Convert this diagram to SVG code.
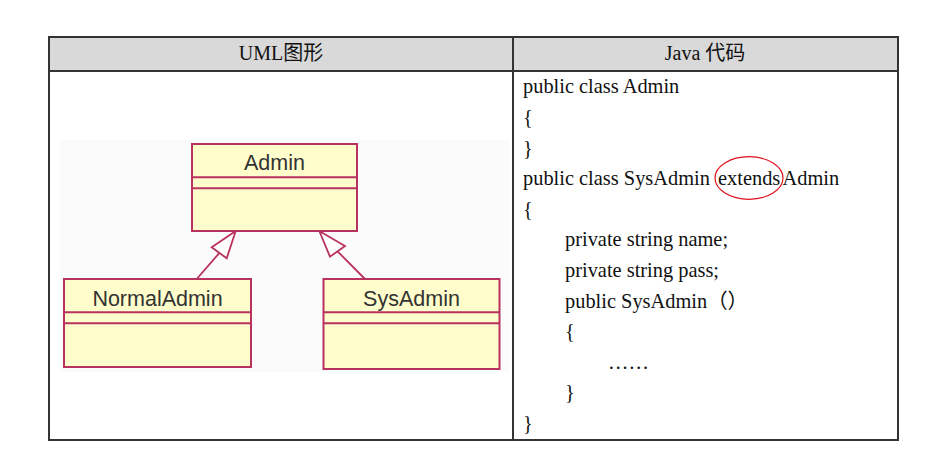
<svg xmlns="http://www.w3.org/2000/svg" width="927" height="473" viewBox="0 0 927 473">
<style>
.cls{fill:#fffdcc;stroke:#b8325f;stroke-width:2}
.div{stroke:#b8325f;stroke-width:2;fill:none}
.cname{font-family:"Liberation Sans",Arial,sans-serif;font-size:21.5px;fill:#333;text-anchor:middle}
.hdr{font-family:"Liberation Serif","Noto Sans CJK SC",serif;font-size:20px;fill:#111;text-anchor:middle}
.code{font-family:"Liberation Serif","Noto Sans CJK SC",serif;font-size:20.4px;fill:#111}
.conn{stroke:#b8325f;stroke-width:1.8;fill:none}
.tri{fill:#fffefb;stroke:#b8325f;stroke-width:1.8}
.grid{stroke:#333;stroke-width:2;fill:none}
</style>
<rect width="927" height="473" fill="#fff"/>
<g id="table">
<rect x="49" y="37" width="849" height="34" fill="#d9d9d9"/>
<rect x="49" y="37" width="849" height="403" class="grid"/>
<line x1="49" y1="71" x2="898" y2="71" class="grid"/>
<line x1="513" y1="37" x2="513" y2="440" class="grid"/>
<text class="hdr" x="281" y="60">UML图形</text>
<text class="hdr" x="705" y="60">Java 代码</text>
</g>
<rect x="60" y="140" width="450" height="232" fill="#fbfbfb"/>
<g id="connectors">
<line class="conn" x1="196.7" y1="279" x2="219.5" y2="252.8"/>
<polygon class="tri" points="235.7,231 211.7,247.3 226.7,258.3"/>
<line class="conn" x1="365" y1="279" x2="337.5" y2="251.3"/>
<polygon class="tri" points="319.3,231 345,246 330,256.7"/>
</g>
<g id="Admin">
<rect class="cls" x="192" y="144" width="165" height="87"/>
<line class="div" x1="192" y1="177.3" x2="357" y2="177.3"/>
<line class="div" x1="192" y1="188.3" x2="357" y2="188.3"/>
<text class="cname" x="274.5" y="170">Admin</text>
</g>
<g id="NormalAdmin">
<rect class="cls" x="64" y="279" width="187" height="88"/>
<line class="div" x1="64" y1="312.3" x2="251" y2="312.3"/>
<line class="div" x1="64" y1="323.3" x2="251" y2="323.3"/>
<text class="cname" x="157.5" y="305.7">NormalAdmin</text>
</g>
<g id="SysAdmin">
<rect class="cls" x="323.5" y="279" width="176" height="90"/>
<line class="div" x1="323.5" y1="312.3" x2="499.5" y2="312.3"/>
<line class="div" x1="323.5" y1="323.3" x2="499.5" y2="323.3"/>
<text class="cname" x="411.5" y="305.7">SysAdmin</text>
</g>
<g id="code">
<text class="code" x="523" y="93.3">public class Admin</text>
<text class="code" x="523" y="123.9">{</text>
<text class="code" x="523" y="154.5">}</text>
<text class="code" y="185.1"><tspan x="523">public class SysAdmin</tspan><tspan x="718">extends</tspan><tspan x="782.5">Admin</tspan></text>
<ellipse cx="749" cy="178" rx="34" ry="21.3" fill="none" stroke="#e0101a" stroke-width="1.2"/>
<text class="code" x="523" y="215.7">{</text>
<text class="code" x="565" y="246.3">private string name;</text>
<text class="code" x="565" y="276.9">private string pass;</text>
<text class="code" x="565" y="307.5">public SysAdmin（）</text>
<text class="code" x="565" y="338.1">{</text>
<text class="code" x="608" y="368.7">……</text>
<text class="code" x="565" y="399.3">}</text>
<text class="code" x="523" y="429.9">}</text>
</g>
</svg>
